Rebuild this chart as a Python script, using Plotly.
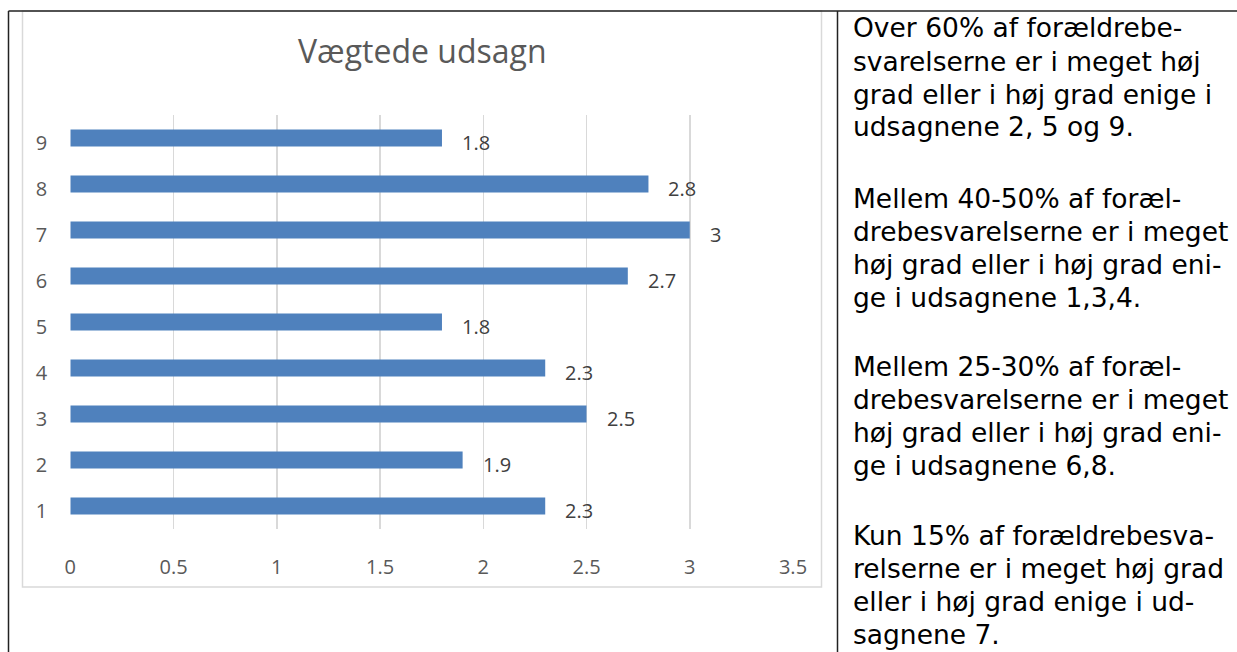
import plotly.graph_objects as go

# ---- data ----
categories = [1, 2, 3, 4, 5, 6, 7, 8, 9]
category_labels = ["1", "2", "3", "4", "5", "6", "7", "8", "9"]
values = [2.3, 1.9, 2.5, 2.3, 1.8, 2.7, 3.0, 2.8, 1.8]
value_labels = ["2.3", "1.9", "2.5", "2.3", "1.8", "2.7", "3", "2.8", "1.8"]
x_ticks = [0, 0.5, 1, 1.5, 2, 2.5, 3, 3.5]
x_tick_labels = ["0", "0.5", "1", "1.5", "2", "2.5", "3", "3.5"]
title_text = "Vægtede udsagn"
paragraphs = [
    ["Over 60% af forældrebe-", "svarelserne er i meget høj",
     "grad eller i høj grad enige i", "udsagnene 2, 5 og 9."],
    ["Mellem 40-50% af foræl-", "drebesvarelserne er i meget",
     "høj grad eller i høj grad eni-", "ge i udsagnene 1,3,4."],
    ["Mellem 25-30% af foræl-", "drebesvarelserne er i meget",
     "høj grad eller i høj grad eni-", "ge i udsagnene 6,8."],
    ["Kun 15% af forældrebesva-", "relserne er i meget høj grad",
     "eller i høj grad enige i ud-", "sagnene 7."],
]

W, H = 1237, 652


def px(x):
    return x / W


def py(y):
    return 1 - y / H


fig = go.Figure()
fig.add_trace(go.Bar(
    x=values, y=categories, orientation="h",
    marker=dict(color="#4f81bd", line=dict(width=0)),
    width=0.37, hoverinfo="skip",
))

annotations = []
for v, c, t in zip(values, categories, value_labels):
    annotations.append(dict(
        x=v, y=c, xref="x", yref="y", text=t, showarrow=False,
        xanchor="left", yanchor="middle", xshift=18, yshift=-4,
        font=dict(family="Open Sans", size=20, color="#404040"),
    ))

# title
annotations.append(dict(
    x=px(422), y=py(50), xref="paper", yref="paper", text=title_text,
    showarrow=False, xanchor="center", yanchor="middle",
    font=dict(family="Open Sans", size=32, color="#595959"),
))

# right-hand text
para_starts = [28, 198.5, 366.5, 535]
pitch = 33.0
for start, lines in zip(para_starts, paragraphs):
    for i, line in enumerate(lines):
        annotations.append(dict(
            x=px(850.5), y=py(start + i * pitch), xref="paper", yref="paper",
            text=line, showarrow=False, xanchor="left", yanchor="middle",
            font=dict(family="DejaVu Sans", size=26.5, color="#000000"),
        ))

shapes = [
    # chart frame
    dict(type="rect", xref="paper", yref="paper", x0=px(22.5), x1=px(821.5),
         y0=py(587), y1=py(11), line=dict(color="#d9d9d9", width=1.5),
         fillcolor="rgba(0,0,0,0)", layer="below"),
    # table borders
    dict(type="line", xref="paper", yref="paper", x0=px(8.5), x1=1,
         y0=py(11), y1=py(11), line=dict(color="#222222", width=1.5)),
    dict(type="line", xref="paper", yref="paper", x0=px(8.5), x1=px(8.5),
         y0=py(11), y1=0, line=dict(color="#222222", width=1.5)),
    dict(type="line", xref="paper", yref="paper", x0=px(837.5), x1=px(837.5),
         y0=py(11), y1=0, line=dict(color="#222222", width=1.5)),
]

fig.update_layout(
    width=W, height=H, autosize=False,
    margin=dict(l=0, r=0, t=0, b=0, pad=0, autoexpand=False),
    paper_bgcolor="white", plot_bgcolor="white",
    showlegend=False,
    annotations=annotations,
    shapes=shapes,
    xaxis=dict(
        domain=[px(70.3), px(793)], range=[0, 3.5], automargin=False,
        tickvals=x_ticks, ticktext=x_tick_labels,
        showgrid=True, gridcolor="#d9d9d9", gridwidth=1.5,
        zeroline=False, showline=False, ticks="",
        tickfont=dict(family="Open Sans", size=20, color="#595959"),
        ticklabelstandoff=24, fixedrange=True,
    ),
    yaxis=dict(
        domain=[py(529), py(115)], range=[0.5, 9.5], automargin=False,
        tickvals=categories, ticktext=category_labels,
        showgrid=False, zeroline=False, showline=False, ticks="",
        tickfont=dict(family="Open Sans", size=20, color="#595959"),
        ticklabelstandoff=22, ticklabelshift=5, fixedrange=True,
    ),
)

fig.write_html(
    "out.html",
    config={"responsive": False, "displayModeBar": False, "staticPlot": True},
    post_script="document.body.style.margin='0';document.body.style.overflow='hidden';",
)
